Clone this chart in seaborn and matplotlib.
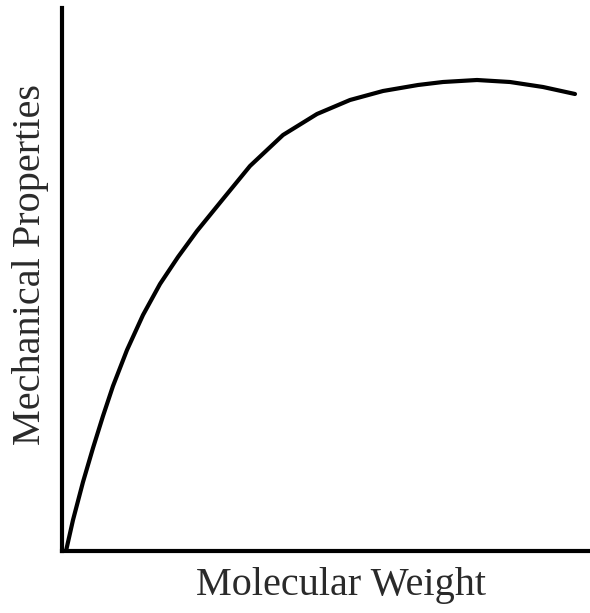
import matplotlib
matplotlib.use("Agg")
import matplotlib.pyplot as plt
import seaborn as sns
import pandas as pd

molecular_weight = [4, 11, 21, 31, 41, 51, 65, 81, 98, 116, 135, 161, 188, 221,
                    255, 288, 321, 356, 381, 415, 448, 481, 513]
mechanical_props = [0, 31, 69, 103, 135, 165, 201, 236, 267, 294, 320, 352, 385, 416,
                    437, 451, 460, 466, 469, 471, 469, 464, 457]

df = pd.DataFrame({"mw": molecular_weight, "mp": mechanical_props})

sns.set_theme(style="white")
plt.rcParams['font.family'] = ['Liberation Serif', 'DejaVu Serif']

fig = plt.figure(figsize=(5.90, 6.13), dpi=100)
W, H = 590, 613
ax = fig.add_axes([62 / W, (H - 551) / H, (590 - 62) / W, (551 - 8) / H])

sns.lineplot(data=df, x="mw", y="mp", ax=ax, color="black", linewidth=3.0,
             sort=False, estimator=None, solid_capstyle="round",
             solid_joinstyle="round")

ax.set_xlim(0, 528)
ax.set_ylim(0, 543)
ax.set_xticks([])
ax.set_yticks([])
for s in ["top", "right"]:
    ax.spines[s].set_visible(False)
for s in ["left", "bottom"]:
    ax.spines[s].set_color("black")
    ax.spines[s].set_linewidth(3.0)

ax.set_xlabel("Molecular Weight", fontsize=29, color="#2a2a2a")
ax.set_ylabel("Mechanical Properties", fontsize=29, color="#2a2a2a")
ax.xaxis.set_label_coords(0.528, -0.063)
ax.yaxis.set_label_coords(-0.06, 0.527)
ax.xaxis.label.set_va("center")
ax.yaxis.label.set_va("center")

fig.savefig("out.png", dpi=100, facecolor="white")
